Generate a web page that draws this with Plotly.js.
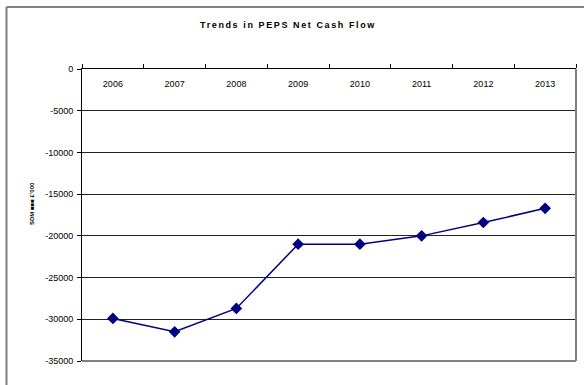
<!DOCTYPE html>
<html>
<head>
<meta charset="utf-8">
<script src="https://cdn.plot.ly/plotly-3.0.1.min.js"></script>
<style>
  html, body { margin: 0; padding: 0; background: #fff; }
  #chart { width: 584px; height: 385px; }
  #chart .gtitle { letter-spacing: 1.6px; }
</style>
</head>
<body>
<div id="chart"></div>
<script>
// Net cash flow by year (£'000)
const years = ['2006', '2007', '2008', '2009', '2010', '2011', '2012', '2013'];
const netCashFlow = [-29900, -31500, -28700, -21000, -21000, -20000, -18400, -16700];
const yTicks = [0, -5000, -10000, -15000, -20000, -25000, -30000, -35000];

// Plot area: x 82..576, y 69..361 in page pixels
const L = 82, R = 576, T = 69, B = 361, W = 584, H = 385;
const px = v => (v - L) / (R - L);
const py = v => 1 - (v - T) / (B - T);

const trace = {
  x: years,
  y: netCashFlow,
  type: 'scatter',
  mode: 'lines+markers',
  line: { color: '#000080', width: 1.5 },
  marker: { symbol: 'diamond', size: 9, color: '#000080' },
  cliponaxis: false,
  hoverinfo: 'x+y'
};

// invisible companion trace so the top axis (ticks only) is drawn
const axisTrace = {
  x: years,
  y: netCashFlow,
  xaxis: 'x2',
  type: 'scatter',
  mode: 'none',
  hoverinfo: 'skip',
  showlegend: false
};

const catRange = [-0.5, years.length - 0.5];

const layout = {
  width: W,
  height: H,
  margin: { l: L, r: W - R, t: T, b: H - B, pad: 0 },
  paper_bgcolor: '#ffffff',
  plot_bgcolor: '#ffffff',
  showlegend: false,
  font: { family: 'Liberation Sans, Arial, sans-serif', size: 9, color: '#000' },
  title: {
    text: 'Trends in PEPS Net Cash Flow',
    font: { family: 'Liberation Sans, Arial, sans-serif', size: 9, color: '#000', weight: 'bold' },
    x: px(288), xref: 'paper', xanchor: 'center',
    y: 1 - 25 / H, yref: 'container', yanchor: 'middle'
  },
  // category labels sit just under the top axis line
  xaxis: {
    type: 'category',
    anchor: 'free', position: 1, side: 'bottom',
    range: catRange,
    showline: false, ticks: '',
    ticklabelstandoff: 8,
    showgrid: false, zeroline: false,
    tickfont: { size: 9, color: '#000' },
    fixedrange: true
  },
  // top axis line with boundary ticks pointing up
  xaxis2: {
    type: 'category',
    overlaying: 'x', side: 'top', anchor: 'y',
    range: catRange,
    showline: true, linecolor: '#000', linewidth: 1,
    ticks: 'outside', tickson: 'boundaries', ticklen: 4, tickcolor: '#000', tickwidth: 1,
    showticklabels: false,
    showgrid: false, zeroline: false,
    fixedrange: true
  },
  yaxis: {
    range: [-35000, 0],
    tickvals: yTicks,
    ticktext: yTicks.map(String),
    showline: true, linecolor: '#000', linewidth: 1,
    ticks: 'outside', ticklen: 4, tickcolor: '#000', tickwidth: 1,
    showgrid: true, gridcolor: '#222', gridwidth: 1,
    zeroline: false,
    tickfont: { size: 9, color: '#000' },
    ticklabelstandoff: 2,
    fixedrange: true
  },
  shapes: [
    // plot area border (right and bottom)
    { type: 'line', xref: 'paper', yref: 'paper', x0: 1, x1: 1, y0: 0, y1: 1,
      line: { color: '#808080', width: 2 }, layer: 'above' },
    { type: 'line', xref: 'paper', yref: 'paper', x0: 0, x1: 1, y0: 0, y1: 0,
      line: { color: '#808080', width: 2 }, layer: 'above' },
    // outer chart frame
    { type: 'line', xref: 'paper', yref: 'paper', x0: px(6.5), x1: px(6.5), y0: py(7), y1: py(400),
      line: { color: '#808080', width: 2 } },
    { type: 'line', xref: 'paper', yref: 'paper', x0: px(6.5), x1: px(600), y0: py(7), y1: py(7),
      line: { color: '#808080', width: 2 } }
  ],
  annotations: [
    {
      text: "SDM ■■■ £'000",
      xref: 'paper', yref: 'paper',
      x: px(27), y: py(204),
      showarrow: false, textangle: -90,
      font: { size: 6, color: '#000', weight: 'bold' }
    }
  ]
};

Plotly.newPlot('chart', [axisTrace, trace], layout, { displayModeBar: false, staticPlot: true });
</script>
</body>
</html>
